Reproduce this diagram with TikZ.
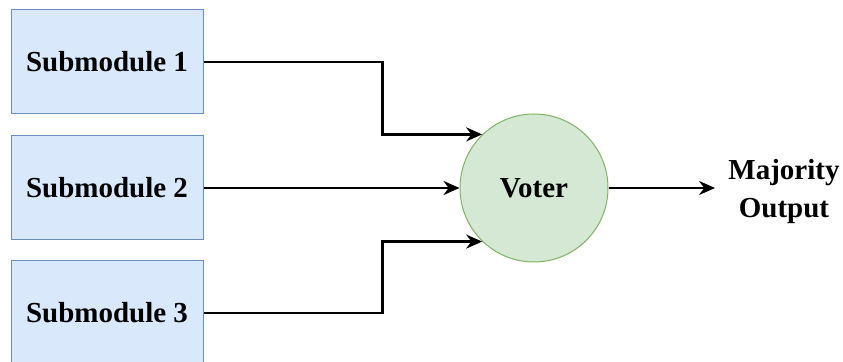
\documentclass[tikz,border=0pt]{standalone}
\usepackage{fontspec}
\setmainfont{Liberation Serif}
\usetikzlibrary{arrows.meta}

\definecolor{boxfill}{HTML}{DAE8FC}
\definecolor{boxline}{HTML}{6C8EBF}
\definecolor{voterfill}{HTML}{D5E8D4}
\definecolor{voterline}{HTML}{82B366}

\tikzset{
  subbox/.style={draw=boxline, fill=boxfill, line width=0.5pt,
    minimum width=96pt, minimum height=52pt, inner sep=0pt,
    font=\bfseries\fontsize{14.5}{19}\selectfont},
  votecircle/.style={circle, draw=voterline, fill=voterfill, line width=0.5pt,
    minimum size=74pt, inner sep=0pt,
    font=\bfseries\fontsize{14.5}{19}\selectfont},
  outlabel/.style={align=center, inner sep=6.5pt,
    font=\bfseries\fontsize{14.5}{19}\selectfont},
  flow/.style={-{Stealth[length=8pt,width=7pt]}, line width=1.2pt}
}

\begin{document}
\begin{tikzpicture}[x=0.5pt, y=-0.5pt]

% Fix the picture size (843 x 362 px)
\useasboundingbox (0,0) rectangle (843,362);
\clip (0,0) rectangle (843,362);

% Define the three submodule boxes
% the third box runs past the bottom edge
\node[subbox] (sub1) at (107,62) {Submodule 1};
\node[subbox] (sub2) at (107,188) {Submodule 2};
\node[subbox] (sub3) at (107,313) {Submodule 3};

% Draw the voter circle
\node[votecircle] (voter) at (534,188) {Voter};

% Label the output
\node[outlabel] (out) at (784,192) {Majority\\Output};

% Draw connector from submodule 1 to voter
\draw[flow] (sub1.east) -- ++(179,0) |- (voter.134);

% Draw connector from submodule 2 to voter
\draw[flow] (sub2.east) -- (voter.west);

% Draw connector from submodule 3 to voter
\draw[flow] (sub3.east) -- ++(179,0) |- (voter.-134);

% Draw connector from voter to output
\draw[flow] (voter.east) -- (voter.east -| out.west);

\end{tikzpicture}
\end{document}
